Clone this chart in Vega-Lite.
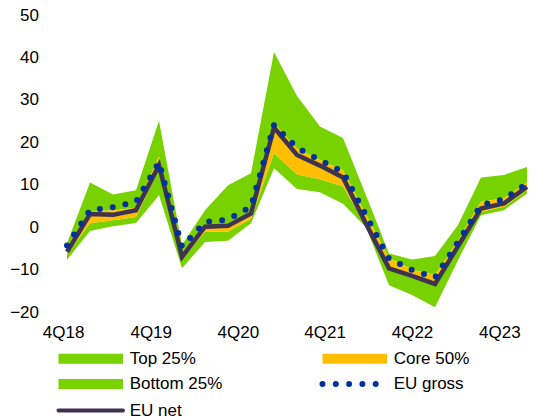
{
  "$schema": "https://vega.github.io/schema/vega-lite/v6.json",
  "width": 506,
  "height": 297,
  "autosize": {"type": "none"},
  "padding": {"left": 44, "top": 15, "right": 1, "bottom": 105},
  "config": {
    "view": {"stroke": null},
    "font": "Liberation Sans",
    "axis": {"labelFont": "Liberation Sans", "labelFontSize": 17, "labelColor": "#000000", "grid": false, "domain": false, "ticks": false},
    "legend": {
      "orient": "none",
      "legendX": 11,
      "legendY": 335,
      "columns": 2,
      "columnPadding": 87,
      "rowPadding": 4.5,
      "padding": 0,
      "labelFont": "Liberation Sans",
      "labelFontSize": 17,
      "labelColor": "#000000",
      "labelOffset": 57.7,
      "symbolSize": 100
    }
  },
  "data": {
    "values": [
      {"quarter": "4Q18", "t": 0, "max": -3.8, "p75": -4.6, "p25": -6.4, "min": -7.7, "net": -5.8, "gross": -4.3},
      {"quarter": "1Q19", "t": 1, "max": 10.5, "p75": 3.8, "p25": 0.9, "min": -0.9, "net": 3.1, "gross": 4.0},
      {"quarter": "2Q19", "t": 2, "max": 7.7, "p75": 3.9, "p25": 1.6, "min": 0.2, "net": 2.9, "gross": 4.7},
      {"quarter": "3Q19", "t": 3, "max": 8.7, "p75": 4.6, "p25": 2.4, "min": 1.0, "net": 4.0, "gross": 6.0},
      {"quarter": "4Q19", "t": 4, "max": 25.1, "p75": 16.6, "p25": 13.8, "min": 7.5, "net": 14.6, "gross": 15.3},
      {"quarter": "1Q20", "t": 5, "max": -4.2, "p75": -6.0, "p25": -7.6, "min": -9.7, "net": -7.0, "gross": -4.6},
      {"quarter": "2Q20", "t": 6, "max": 4.0, "p75": 0.3, "p25": -1.1, "min": -3.5, "net": 0.1, "gross": 1.2},
      {"quarter": "3Q20", "t": 7, "max": 9.9, "p75": 0.6, "p25": -1.1, "min": -3.2, "net": 0.3, "gross": 1.8},
      {"quarter": "4Q20", "t": 8, "max": 12.7, "p75": 3.8, "p25": 2.0, "min": 0.9, "net": 3.2, "gross": 4.8},
      {"quarter": "1Q21", "t": 9, "max": 41.3, "p75": 24.5, "p25": 17.4, "min": 13.9, "net": 23.5, "gross": 24.1},
      {"quarter": "2Q21", "t": 10, "max": 30.9, "p75": 18.5, "p25": 12.4, "min": 9.0, "net": 17.0, "gross": 18.7},
      {"quarter": "3Q21", "t": 11, "max": 23.7, "p75": 15.8, "p25": 11.3, "min": 8.2, "net": 14.5, "gross": 15.8},
      {"quarter": "4Q21", "t": 12, "max": 21.0, "p75": 13.4, "p25": 9.6, "min": 5.5, "net": 11.7, "gross": 13.0},
      {"quarter": "1Q22", "t": 13, "max": 7.5, "p75": 3.0, "p25": 0.3, "min": 0.0, "net": 0.8, "gross": 2.8},
      {"quarter": "2Q22", "t": 14, "max": -6.2, "p75": -7.3, "p25": -10.0, "min": -13.7, "net": -9.7, "gross": -7.4},
      {"quarter": "3Q22", "t": 15, "max": -7.6, "p75": -10.0, "p25": -12.0, "min": -16.0, "net": -11.5, "gross": -10.1},
      {"quarter": "4Q22", "t": 16, "max": -6.8, "p75": -11.3, "p25": -13.6, "min": -18.9, "net": -13.4, "gross": -11.9},
      {"quarter": "1Q23", "t": 17, "max": 0.5, "p75": -3.2, "p25": -5.0, "min": -7.8, "net": -4.5, "gross": -3.5},
      {"quarter": "2Q23", "t": 18, "max": 11.7, "p75": 6.0, "p25": 3.6, "min": 2.8, "net": 4.4, "gross": 5.2},
      {"quarter": "3Q23", "t": 19, "max": 12.3, "p75": 6.8, "p25": 4.8, "min": 4.0, "net": 5.6, "gross": 6.6},
      {"quarter": "4Q23", "t": 20, "max": 14.2, "p75": 10.5, "p25": 8.7, "min": 7.9, "net": 9.5, "gross": 10.3}
    ]
  },
  "encoding": {
    "x": {
      "field": "t",
      "type": "quantitative",
      "scale": {"domain": [-1, 21], "nice": false, "zero": false},
      "axis": {
        "title": null,
        "values": [-0.17, 3.64, 7.43, 11.2, 15.0, 18.8],
        "labelExpr": "'4Q' + (18 + round((datum.value + 0.17) / 3.79))",
        "labelPadding": 12,
        "labelFlush": false,
        "labelOverlap": false
      }
    }
  },
  "layer": [
    {
      "mark": {"type": "area", "opacity": 1, "strokeWidth": 0},
      "encoding": {
        "y": {
          "field": "p75", "type": "quantitative",
          "scale": {"domain": [-20, 50], "nice": false, "zero": false},
          "axis": {"title": null, "values": [-20, -10, 0, 10, 20, 30, 40, 50], "labelPadding": 5.5}
        },
        "y2": {"field": "max"},
        "color": {
          "datum": "Top 25%",
          "scale": {
            "domain": ["Top 25%", "Bottom 25%", "EU net", "Core 50%", "EU gross"],
            "range": ["#78D200", "#78D200", "#3F3351", "#FFBF00", "#003299"]
          },
          "legend": {
            "title": null,
            "encode": {"symbols": {"update": {
              "shape": {"signal": "datum.value === 'EU gross' ? 'M-1,0H10.6' : datum.value === 'EU net' ? 'M-1,0H11.9' : 'M-1,-1H11.9V1H-1Z'"},
              "size": {"value": 100},
              "fill": {"signal": "datum.value === 'Core 50%' ? '#FFBF00' : (datum.value === 'EU net' || datum.value === 'EU gross') ? 'transparent' : '#78D200'"},
              "stroke": {"signal": "datum.value === 'EU net' ? '#3F3351' : datum.value === 'EU gross' ? '#003299' : 'transparent'"},
              "strokeWidth": {"signal": "datum.value === 'EU net' ? 4 : datum.value === 'EU gross' ? 6 : 0"},
              "strokeDash": {"signal": "datum.value === 'EU gross' ? [0, 13.3] : [1, 0]"},
              "strokeCap": {"signal": "(datum.value === 'EU net' || datum.value === 'EU gross') ? 'round' : 'butt'"},
              "opacity": {"value": 1}, "fillOpacity": {"value": 1}, "strokeOpacity": {"value": 1}
            }}}
          }
        }
      }
    },
    {
      "mark": {"type": "area", "opacity": 1, "strokeWidth": 0},
      "encoding": {
        "y": {"field": "min", "type": "quantitative", "title": null},
        "y2": {"field": "p25"},
        "color": {
          "datum": "Bottom 25%",
          "legend": {
            "title": null,
            "encode": {"symbols": {"update": {
              "shape": {"signal": "datum.value === 'EU gross' ? 'M-1,0H10.6' : datum.value === 'EU net' ? 'M-1,0H11.9' : 'M-1,-1H11.9V1H-1Z'"},
              "size": {"value": 100},
              "fill": {"signal": "datum.value === 'Core 50%' ? '#FFBF00' : (datum.value === 'EU net' || datum.value === 'EU gross') ? 'transparent' : '#78D200'"},
              "stroke": {"signal": "datum.value === 'EU net' ? '#3F3351' : datum.value === 'EU gross' ? '#003299' : 'transparent'"},
              "strokeWidth": {"signal": "datum.value === 'EU net' ? 4 : datum.value === 'EU gross' ? 6 : 0"},
              "strokeDash": {"signal": "datum.value === 'EU gross' ? [0, 13.3] : [1, 0]"},
              "strokeCap": {"signal": "(datum.value === 'EU net' || datum.value === 'EU gross') ? 'round' : 'butt'"},
              "opacity": {"value": 1}, "fillOpacity": {"value": 1}, "strokeOpacity": {"value": 1}
            }}}
          }
        }
      }
    },
    {
      "mark": {"type": "area", "opacity": 1, "strokeWidth": 0},
      "encoding": {
        "y": {"field": "p25", "type": "quantitative", "title": null},
        "y2": {"field": "p75"},
        "color": {
          "datum": "Core 50%",
          "legend": {
            "title": null,
            "encode": {"symbols": {"update": {
              "shape": {"signal": "datum.value === 'EU gross' ? 'M-1,0H10.6' : datum.value === 'EU net' ? 'M-1,0H11.9' : 'M-1,-1H11.9V1H-1Z'"},
              "size": {"value": 100},
              "fill": {"signal": "datum.value === 'Core 50%' ? '#FFBF00' : (datum.value === 'EU net' || datum.value === 'EU gross') ? 'transparent' : '#78D200'"},
              "stroke": {"signal": "datum.value === 'EU net' ? '#3F3351' : datum.value === 'EU gross' ? '#003299' : 'transparent'"},
              "strokeWidth": {"signal": "datum.value === 'EU net' ? 4 : datum.value === 'EU gross' ? 6 : 0"},
              "strokeDash": {"signal": "datum.value === 'EU gross' ? [0, 13.3] : [1, 0]"},
              "strokeCap": {"signal": "(datum.value === 'EU net' || datum.value === 'EU gross') ? 'round' : 'butt'"},
              "opacity": {"value": 1}, "fillOpacity": {"value": 1}, "strokeOpacity": {"value": 1}
            }}}
          }
        }
      }
    },
    {
      "mark": {"type": "line", "strokeWidth": 4.5, "strokeJoin": "miter"},
      "encoding": {
        "y": {"field": "net", "type": "quantitative", "title": null},
        "color": {
          "datum": "EU net",
          "legend": {
            "title": null,
            "encode": {"symbols": {"update": {
              "shape": {"signal": "datum.value === 'EU gross' ? 'M-1,0H10.6' : datum.value === 'EU net' ? 'M-1,0H11.9' : 'M-1,-1H11.9V1H-1Z'"},
              "size": {"value": 100},
              "fill": {"signal": "datum.value === 'Core 50%' ? '#FFBF00' : (datum.value === 'EU net' || datum.value === 'EU gross') ? 'transparent' : '#78D200'"},
              "stroke": {"signal": "datum.value === 'EU net' ? '#3F3351' : datum.value === 'EU gross' ? '#003299' : 'transparent'"},
              "strokeWidth": {"signal": "datum.value === 'EU net' ? 4 : datum.value === 'EU gross' ? 6 : 0"},
              "strokeDash": {"signal": "datum.value === 'EU gross' ? [0, 13.3] : [1, 0]"},
              "strokeCap": {"signal": "(datum.value === 'EU net' || datum.value === 'EU gross') ? 'round' : 'butt'"},
              "opacity": {"value": 1}, "fillOpacity": {"value": 1}, "strokeOpacity": {"value": 1}
            }}}
          }
        }
      }
    },
    {
      "mark": {"type": "line", "strokeWidth": 6, "strokeDash": [0, 13], "strokeCap": "round"},
      "encoding": {
        "y": {"field": "gross", "type": "quantitative", "title": null},
        "color": {
          "datum": "EU gross",
          "legend": {
            "title": null,
            "encode": {"symbols": {"update": {
              "shape": {"signal": "datum.value === 'EU gross' ? 'M-1,0H10.6' : datum.value === 'EU net' ? 'M-1,0H11.9' : 'M-1,-1H11.9V1H-1Z'"},
              "size": {"value": 100},
              "fill": {"signal": "datum.value === 'Core 50%' ? '#FFBF00' : (datum.value === 'EU net' || datum.value === 'EU gross') ? 'transparent' : '#78D200'"},
              "stroke": {"signal": "datum.value === 'EU net' ? '#3F3351' : datum.value === 'EU gross' ? '#003299' : 'transparent'"},
              "strokeWidth": {"signal": "datum.value === 'EU net' ? 4 : datum.value === 'EU gross' ? 6 : 0"},
              "strokeDash": {"signal": "datum.value === 'EU gross' ? [0, 13.3] : [1, 0]"},
              "strokeCap": {"signal": "(datum.value === 'EU net' || datum.value === 'EU gross') ? 'round' : 'butt'"},
              "opacity": {"value": 1}, "fillOpacity": {"value": 1}, "strokeOpacity": {"value": 1}
            }}}
          }
        }
      }
    }
  ]
}
